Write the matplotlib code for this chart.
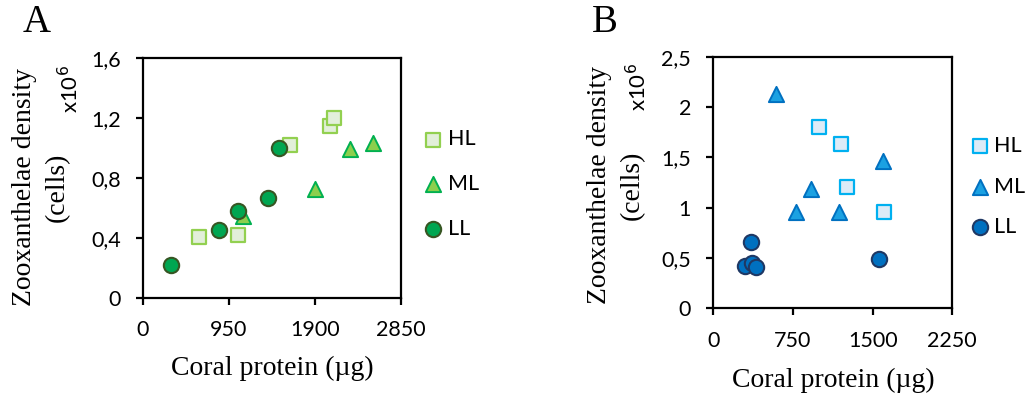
import matplotlib.pyplot as plt
import numpy as np

# Panel A (green): coral protein (ug) vs zooxanthellae density (x10^6 cells)
a_hl_x = [621, 1050, 1619, 2070, 2115]
a_hl_y = [0.405, 0.418, 1.02, 1.145, 1.20]
a_ml_x = [1109, 1904, 2285, 2540]
a_ml_y = [0.545, 0.727, 0.996, 1.033]
a_ll_x = [304, 843, 1046, 1379, 1501]
a_ll_y = [0.217, 0.455, 0.582, 0.667, 1.00]

# Panel B (blue)
b_hl_x = [995, 1199, 1255, 1610]
b_hl_y = [1.805, 1.632, 1.202, 0.957]
b_ml_x = [593, 920, 781, 1186, 1594]
b_ml_y = [2.128, 1.19, 0.953, 0.953, 1.466]
b_ll_x = [351, 298, 361, 399, 1556]
b_ll_y = [0.655, 0.424, 0.447, 0.413, 0.487]

a_xticks = [0, 950, 1900, 2850]
a_yticks = [0, 0.4, 0.8, 1.2, 1.6]
a_yticklabels = ['0', '0,4', '0,8', '1,2', '1,6']
b_xticks = [0, 750, 1500, 2250]
b_yticks = [0, 0.5, 1, 1.5, 2, 2.5]
b_yticklabels = ['0', '0,5', '1', '1,5', '2', '2,5']

SERIF = 'Liberation Serif'
SANS = 'Lato'
W, H = 1027, 396

fig = plt.figure(figsize=(W / 100, H / 100), dpi=100)


def fx(px):
    return px / W


def fy(py):
    return 1 - py / H


def style_axes(ax, xticks, yticks, yticklabels):
    for s in ax.spines.values():
        s.set_linewidth(1.6)
        s.set_color('black')
    ax.set_xlim(xticks[0], xticks[-1])
    ax.set_ylim(yticks[0], yticks[-1])
    ax.set_xticks(xticks)
    ax.set_xticklabels([str(t) for t in xticks])
    ax.set_yticks(yticks)
    ax.set_yticklabels(yticklabels)
    ax.tick_params(direction='out', length=5, width=1.6, labelsize=15.5,
                   colors='black')
    ax.tick_params(axis='x', pad=11)
    ax.tick_params(axis='y', pad=11)
    for lab in ax.get_xticklabels() + ax.get_yticklabels():
        lab.set_fontfamily(SANS)


def draw_panel(ax, hl, ml, ll, colors):
    (hl_fc, hl_ec), (ml_fc, ml_ec), (ll_fc, ll_ec) = colors
    h1 = ax.scatter(hl[0], hl[1], marker='s', s=100, facecolor=hl_fc,
                    edgecolor=hl_ec, linewidth=1.6, label='HL', zorder=3)
    h2 = ax.scatter(ml[0], ml[1], marker='^', s=120, facecolor=ml_fc,
                    edgecolor=ml_ec, linewidth=1.4, label='ML', zorder=3)
    h3 = ax.scatter(ll[0], ll[1], marker='o', s=122, facecolor=ll_fc,
                    edgecolor=ll_ec, linewidth=1.5, label='LL', zorder=4)
    return [h1, h2, h3]


green = [('#E2EFDA', '#92D050'), ('#8CCF4D', '#00B050'), ('#00A651', '#375623')]
blue = [('#DDEBF7', '#00B0F0'), ('#1BA1E2', '#0070C0'), ('#0070C0', '#1F3864')]

leg_kw = dict(loc='center left', bbox_transform=fig.transFigure, frameon=False,
              scatterpoints=1, handlelength=0.75, borderpad=0, borderaxespad=0,
              prop={'family': SANS, 'size': 15.5})

# ---- Panel A
axA = fig.add_axes([fx(143), fy(298), fx(401 - 143), (298 - 58) / H])
hA = draw_panel(axA, (a_hl_x, a_hl_y), (a_ml_x, a_ml_y), (a_ll_x, a_ll_y), green)
style_axes(axA, a_xticks, a_yticks, a_yticklabels)
axA.legend(handles=hA, bbox_to_anchor=(fx(425), fy(184)), handletextpad=0.3,
           labelspacing=1.15, **leg_kw)

# ---- Panel B
axB = fig.add_axes([fx(713.3), fy(308.3), fx(952.3 - 713.3), (308.3 - 56.7) / H])
hB = draw_panel(axB, (b_hl_x, b_hl_y), (b_ml_x, b_ml_y), (b_ll_x, b_ll_y), blue)
style_axes(axB, b_xticks, b_yticks, b_yticklabels)
axB.legend(handles=hB, bbox_to_anchor=(fx(972), fy(186.5)), handletextpad=0.25,
           labelspacing=0.95, **leg_kw)

# ---- Axis titles and panel letters
for cx, cy in [(272, 368), (833, 380)]:
    fig.text(fx(cx), fy(cy), 'Coral protein (\u00b5g)', family=SERIF, size=20,
             ha='center', va='center')

# y titles: two lines drawn separately, plus the x10^6 multiplier
for x1, x2, cy, mx, my in [(25, 57, 187, 70, 89), (600, 632, 185, 638, 87)]:
    fig.text(fx(x1), fy(cy), 'Zooxanthelae density', family=SERIF, size=20,
             rotation=90, ha='center', va='center')
    fig.text(fx(x2), fy(cy), '(cells)', family=SERIF, size=20,
             rotation=90, ha='center', va='center')
    fig.text(fx(mx), fy(my), 'x10$^{6}$', family=SANS, size=16, rotation=90,
             ha='center', va='center')

fig.text(fx(37), fy(23), 'A', family=SERIF, size=28, ha='center', va='center')
fig.text(fx(605), fy(23), 'B', family=SERIF, size=28, ha='center', va='center')

fig.savefig('out.png', dpi=100)
